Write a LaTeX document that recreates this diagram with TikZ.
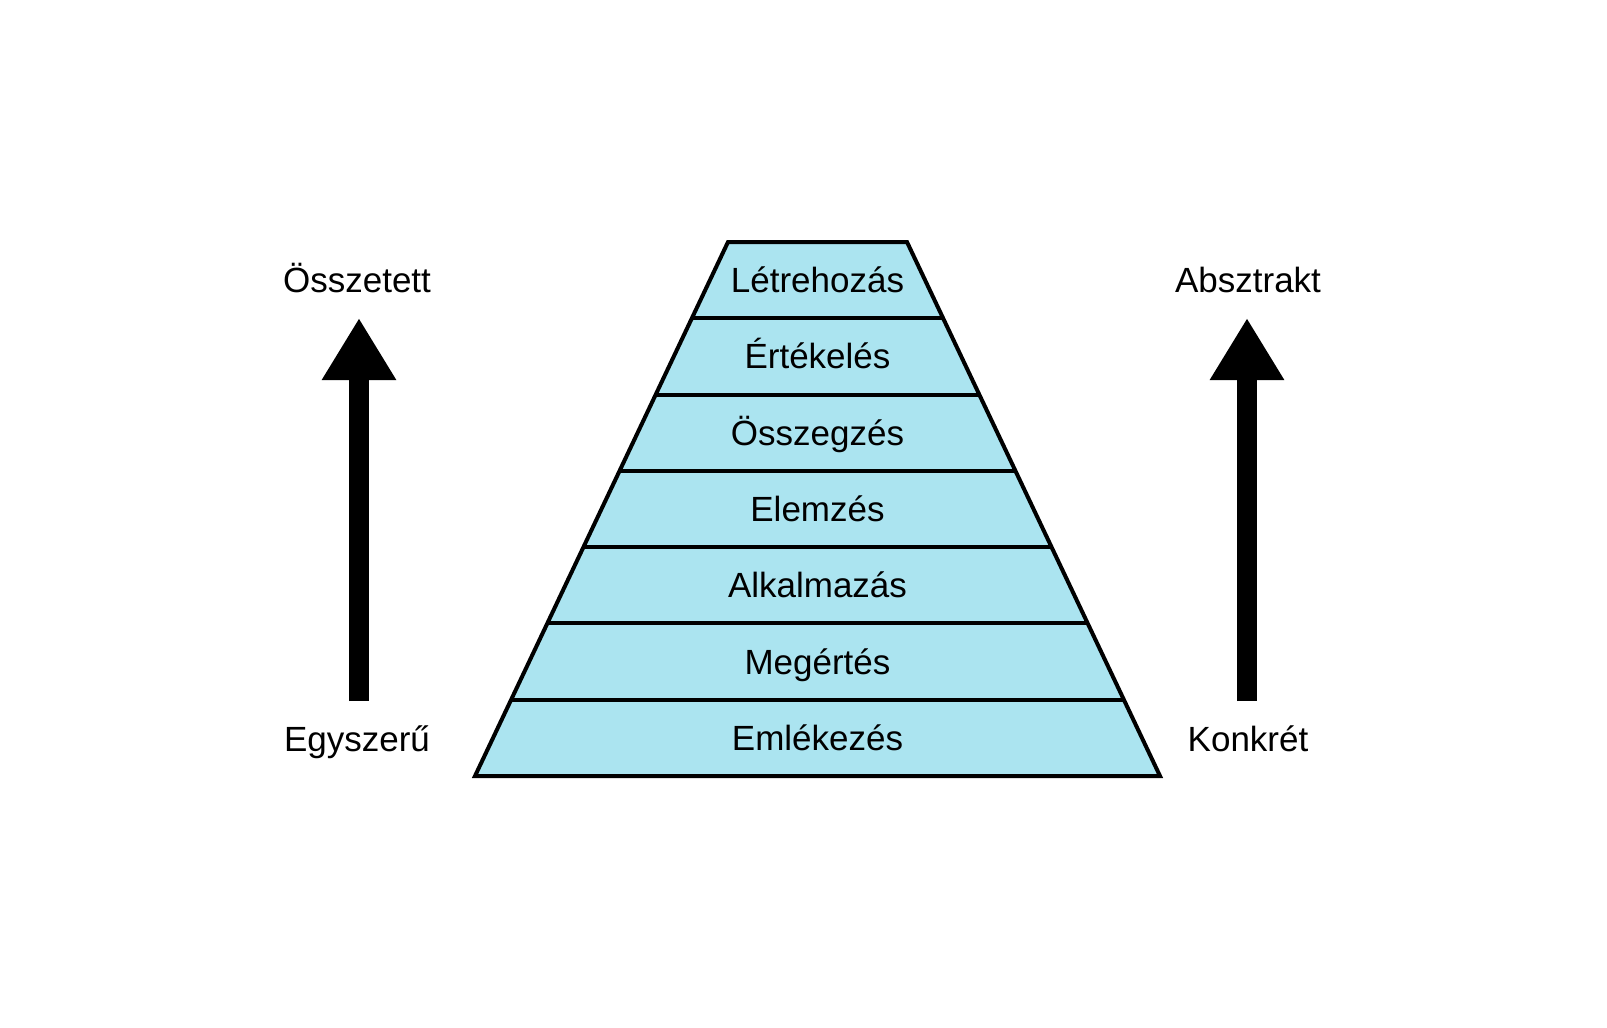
\documentclass[tikz,border=0pt]{standalone}
\usepackage{fontspec}
\setmainfont{Liberation Sans}
\usetikzlibrary{arrows.meta,calc}
\definecolor{bandfill}{RGB}{171,228,240}
\tikzset{
  lbl/.style={font=\fontsize{35}{42}\selectfont, inner sep=0pt, text height=25pt, text depth=0pt, anchor=center},
  bandline/.style={line width=4pt, line join=miter},
  bigarrow/.style={line width=20pt, -{Triangle[width=70pt,length=62pt]}}
}
\begin{document}
\begin{tikzpicture}[x=1pt,y=-1pt]
\useasboundingbox (0,0) rectangle (1607,1028);
% pyramid
\coordinate (TL) at (728,242);
\coordinate (TR) at (907,242);
\coordinate (BL) at (475,776);
\coordinate (BR) at (1160,776);
\fill[bandfill] (TL) -- (TR) -- (BR) -- (BL) -- cycle;
\foreach \i in {1,...,6}{
  \draw[bandline] ($(TL)!\i/7!(BL)$) -- ($(TR)!\i/7!(BR)$);
}
\draw[bandline] (TL) -- (TR) -- (BR) -- (BL) -- cycle;
% labels
\node[lbl] (l1) at (817.5,280) {Létrehozás};
\node[lbl] (l2) at (817.5,356.4) {Értékelés};
\node[lbl] (l3) at (817.5,432.7) {Összegzés};
\node[lbl] (l4) at (817.5,509) {Elemzés};
\node[lbl] (l5) at (817.5,585.3) {Alkalmazás};
\node[lbl] (l6) at (817.5,661.6) {Megértés};
\node[lbl] (l7) at (817.5,737.9) {Emlékezés};
% side labels
\node[lbl] (ossz) at (357,280) {Összetett};
\node[lbl] (egy) at (357,739) {Egyszerű};
\node[lbl] (abs) at (1248,280) {Absztrakt};
\node[lbl] (kon) at (1248,739) {Konkrét};
% arrows
\coordinate (la0) at (359,701);
\coordinate (la1) at (359,318);
\coordinate (ra0) at (1247,701);
\coordinate (ra1) at (1247,318);
\draw[bigarrow] (la0) -- (la1);
\draw[bigarrow] (ra0) -- (ra1);
\end{tikzpicture}
\end{document}
